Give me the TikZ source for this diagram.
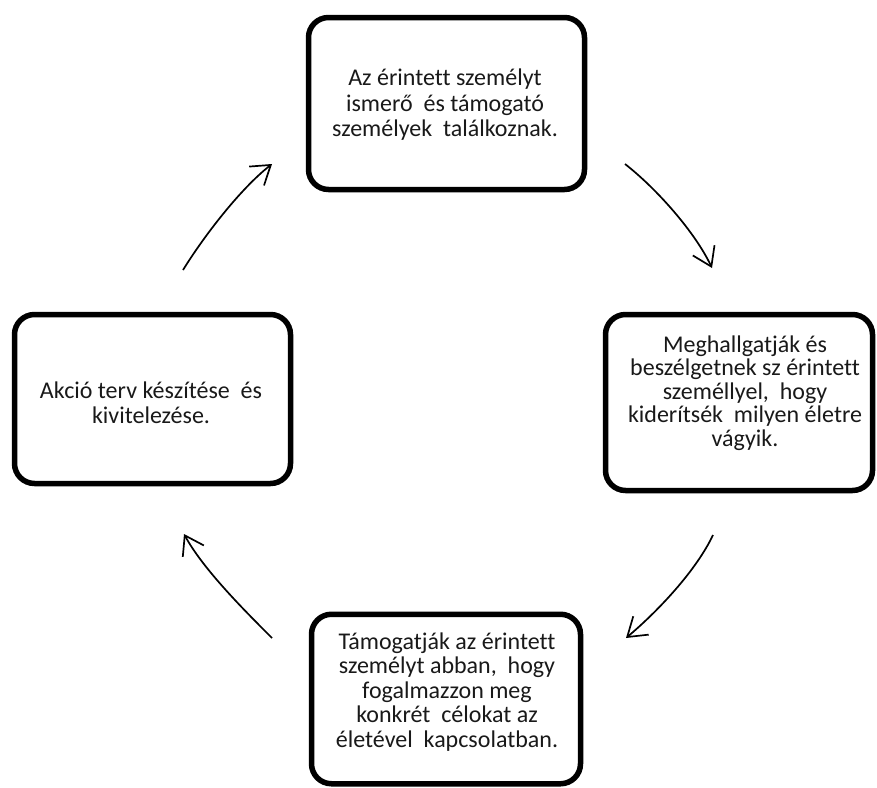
\documentclass[tikz,border=0pt]{standalone}
\usepackage{fontspec}
\setmainfont{Carlito}[Ligatures=NoCommon]
\usetikzlibrary{arrows.meta}
\begin{document}
\begin{tikzpicture}[x=1pt,y=-1pt,
  stepbox/.style={draw=black, line width=5.5pt, rounded corners=20pt, inner sep=0pt},
  txt/.style={align=center, inner sep=0pt, text=black!90, font=\fontsize{24}{25.5}\selectfont},
  flow/.style={line width=1.7pt, -{Straight Barb[length=18pt,width=24pt,line width=1.7pt]}}
]
\useasboundingbox (0,0) rectangle (877,787);
% boxes
\node[stepbox, minimum width=276pt, minimum height=172pt] (top) at (446.5,103.5) {};
\node[stepbox, minimum width=267pt, minimum height=176pt] (right) at (739,402.5) {};
\node[stepbox, minimum width=276pt, minimum height=169pt] (left) at (152.5,399) {};
\node[stepbox, minimum width=269pt, minimum height=169.5pt] (bottom) at (446,699) {};
% texts
\node[txt] (toptxt) at (445,105) {Az érintett személyt\\ismerő~ és támogató\\személyek~ találkoznak.};
\node[txt, font=\fontsize{24}{23.5}\selectfont] (righttxt) at (745,393) {Meghallgatják és\\beszélgetnek sz érintett\\személlyel,~ hogy\\kiderítsék~ milyen életre\\vágyik.};
\node[txt] (lefttxt) at (151,403) {Akció terv készítése~ és\\kivitelezése.};
\node[txt, font=\fontsize{24}{24.5}\selectfont] (bottomtxt) at (447,692) {Támogatják az érintett\\személyt abban,~ hogy\\fogalmazzon meg\\konkrét~ célokat az\\életével~ kapcsolatban.};
% arrows
\coordinate (a1s) at (183,270);
\coordinate (a1e) at (272,164);
\coordinate (a2s) at (625,164);
\coordinate (a2e) at (712,268);
\coordinate (a3s) at (713,535);
\coordinate (a3e) at (626,638);
\coordinate (a4s) at (272,638);
\coordinate (a4e) at (184,534);
\draw[flow] (a1s) .. controls (204,236) and (240.5,188.6) .. (a1e);
\draw[flow] (a2s) .. controls (656.5,188.6) and (695,232) .. (a2e);
\draw[flow] (a3s) .. controls (696,571) and (657,612) .. (a3e);
\draw[flow] (a4s) .. controls (244,610) and (203,569) .. (a4e);
\end{tikzpicture}
\end{document}
